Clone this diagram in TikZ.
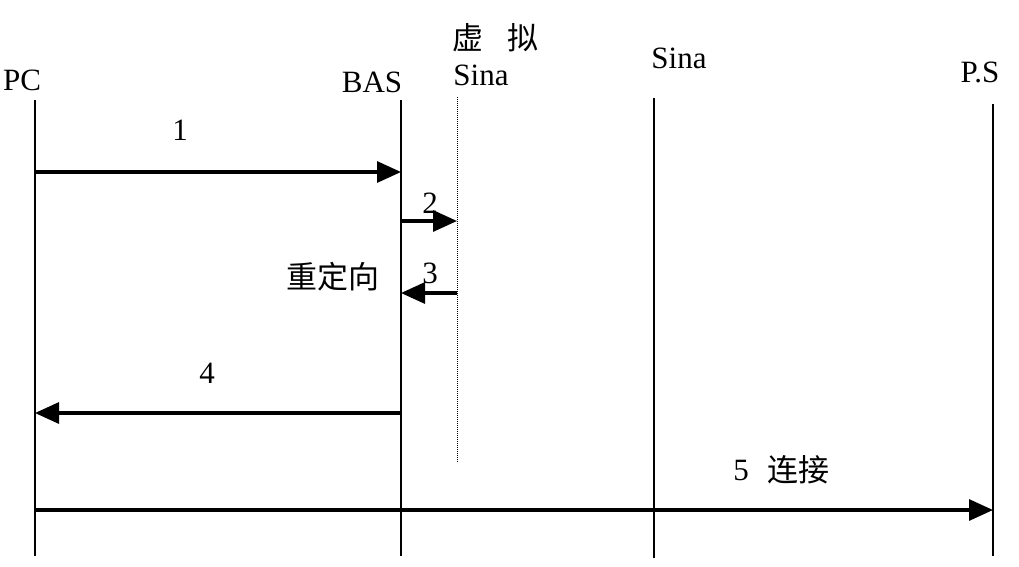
\documentclass[tikz,border=0pt]{standalone}
\usepackage{fontspec}
\setmainfont{Liberation Serif}
\newfontfamily\cjk{Noto Sans CJK SC}
\usetikzlibrary{arrows.meta,positioning}
\tikzstyle{lifeline}=[line width=2.6pt]
\tikzstyle{virtline}=[densely dotted,line width=1pt]
\tikzstyle{message}=[line width=3.2pt,-{Triangle[length=24pt,width=21pt]}]
\tikzstyle{lbl}=[font=\fontsize{31}{33}\selectfont,inner sep=0pt]
\tikzstyle{cjklbl}=[font=\cjk\fontsize{31}{33}\selectfont,inner sep=0pt]

\begin{document}
\begin{tikzpicture}[x=1pt,y=-1pt]
\useasboundingbox (0,0) rectangle (1019,566);

% heads of the lifelines
\node[lbl] (pc) at (22,80) {PC};
\node[lbl] (bas) at (372,82) {BAS};
\node[cjklbl] (virtcn) at (495,38) {虚\hspace{24pt}拟};
\node[lbl] (virt) at (481,75) {Sina};
\node[lbl] (sina) at (679,58) {Sina};
\node[lbl] (ps) at (980,72) {P.S};

% lifelines
\foreach \name/\x/\top/\bot in {pc/35/100/556, bas/401/100/556, sina/654/98/558, ps/993/104/556} {
  \coordinate (\name top) at (\x,\top);
  \coordinate (\name bot) at (\x,\bot);
  \draw[lifeline] (\name top) -- (\name bot);
}
\coordinate (virttop) at (457,97);
\coordinate (virtbot) at (457,462);
\draw[virtline] (virttop) -- (virtbot);

% message ends
\coordinate (pc1) at (35,172);   \coordinate (bas1) at (401,172);
\coordinate (bas2) at (401,221); \coordinate (virt2) at (457,221);
\coordinate (virt3) at (457,293); \coordinate (bas3) at (401,293);
\coordinate (bas4) at (401,413); \coordinate (pc4) at (35,413);
\coordinate (pc5) at (35,510);   \coordinate (ps5) at (993,510);

\draw[message] (pc1) -- (bas1);
\draw[message] (bas2) -- (virt2);
\draw[message] (virt3) -- (bas3);
\draw[message] (bas4) -- (pc4);
\draw[message] (pc5) -- (ps5);

% message labels
\node[lbl] (m1) at (180,130) {1};
\node[lbl] (m2) at (430,203) {2};
\node[lbl] (m3) at (430,273) {3};
\node[cjklbl] (redir) at (333,277) {重定向};
\node[lbl] (m4) at (207,373) {4};
\node[lbl] (m5) at (741,470) {5};
\node[cjklbl,right=18pt of m5] (conn) {连接};
\end{tikzpicture}
\end{document}
